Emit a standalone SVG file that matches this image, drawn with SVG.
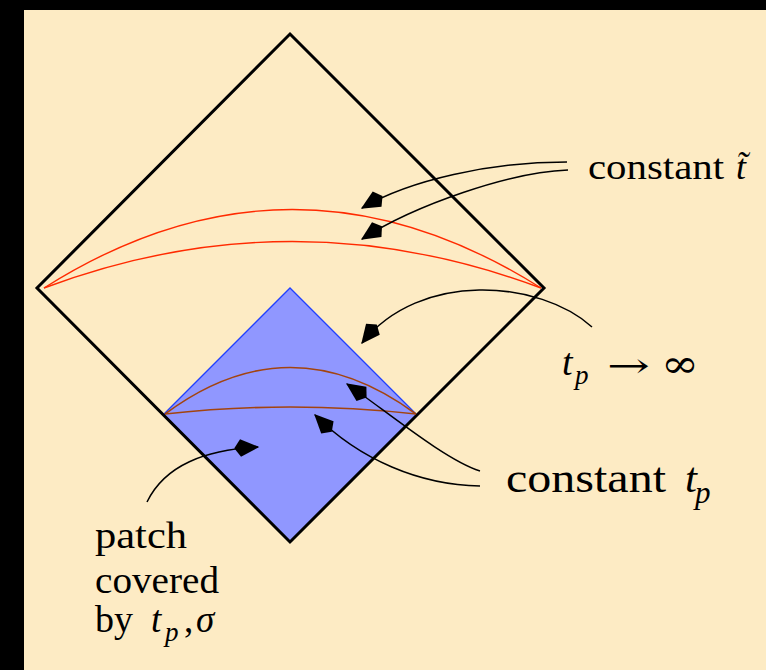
<svg xmlns="http://www.w3.org/2000/svg" width="766" height="670" viewBox="0 0 766 670">
<style>
.txt{font-family:"Liberation Serif","Times New Roman",serif;fill:#000}
.sym{font-family:"DejaVu Serif","Liberation Serif",serif;fill:#000}
.it{font-style:italic}
.conn{fill:none;stroke:#000;stroke-width:1.5;marker-end:url(#head)}
.red{fill:none;stroke:#ff2a00;stroke-width:1.4}
.brown{fill:none;stroke:#a3440f;stroke-width:1.6}
</style>
<defs>
<marker id="head" markerUnits="userSpaceOnUse" orient="auto" refX="0" refY="0" markerWidth="30" markerHeight="30" viewBox="-22 -10 24 20" overflow="visible">
<path d="M1,0 L-14,-7 L-19,0 L-14,7 Z" fill="#000"/>
</marker>
</defs>
<rect x="0" y="0" width="766" height="670" fill="#000"/>
<rect x="24" y="10" width="742" height="660" fill="#fdebc4"/>

<g id="patch">
<polygon points="290,288 163.5,414.5 290,542 417,415" fill="#9097ff"/>
<polyline points="163.5,414.5 290,288 417,415" fill="none" stroke="#2040ff" stroke-width="1.3"/>
</g>

<g id="spacetime">
<polygon points="290,34 544,288 290,542 37,288" fill="none" stroke="#000" stroke-width="3" stroke-linejoin="miter"/>
</g>

<g id="slices-t-tilde">
<path class="red" d="M44,288 Q292,131 541,288"/>
<path class="red" d="M44,288 Q292,195 541,288"/>
</g>

<g id="slices-tp">
<path class="brown" d="M165,414 Q290,321 416,414"/>
<path class="brown" d="M165,414 Q290,400 416,414"/>
</g>

<g id="connectors">
<path class="conn" d="M567,162 C490,162 410,180 362,208"/>
<path class="conn" d="M568,170 C510,172 415,205 362,239"/>
<path class="conn" d="M592,327 C540,280 420,270 362,343"/>
<path class="conn" d="M480,471 C445,460 385,410 347,384"/>
<path class="conn" d="M480,486 C420,485 360,460 315,415"/>
<path class="conn" d="M147,502 C165,465 205,450 258,447"/>
</g>

<g id="label-constant-t-tilde">
<text class="txt" x="588" y="179" font-size="36" textLength="136" lengthAdjust="spacingAndGlyphs">constant</text>
<text class="txt it" x="736" y="179" font-size="36">t̃</text>
</g>

<g id="label-tp-infinity">
<text class="txt it" x="562" y="375" font-size="38">t</text>
<text class="txt it" x="575" y="384" font-size="27">p</text>
<text class="sym" x="607" y="377" font-size="34" textLength="43" lengthAdjust="spacingAndGlyphs">→</text>
<text class="sym" x="661" y="377" font-size="38" textLength="38" lengthAdjust="spacingAndGlyphs">∞</text>
</g>

<g id="label-constant-tp">
<text class="txt" x="506" y="492" font-size="43" textLength="160" lengthAdjust="spacingAndGlyphs">constant</text>
<text class="txt it" x="685" y="492" font-size="43">t</text>
<text class="txt it" x="695" y="503" font-size="31">p</text>
</g>

<g id="label-patch">
<text class="txt" x="95" y="548" font-size="37" textLength="92" lengthAdjust="spacingAndGlyphs">patch</text>
<text class="txt" x="95" y="593" font-size="37" textLength="124" lengthAdjust="spacingAndGlyphs">covered</text>
<text class="txt" x="95" y="632" font-size="37" textLength="38" lengthAdjust="spacingAndGlyphs">by</text>
<text class="txt it" x="151" y="632" font-size="37">t</text>
<text class="txt it" x="165" y="641" font-size="27">p</text>
<text class="txt" x="184" y="632" font-size="37">,</text>
<text class="txt it" x="196" y="632" font-size="37">σ</text>
</g>
</svg>
